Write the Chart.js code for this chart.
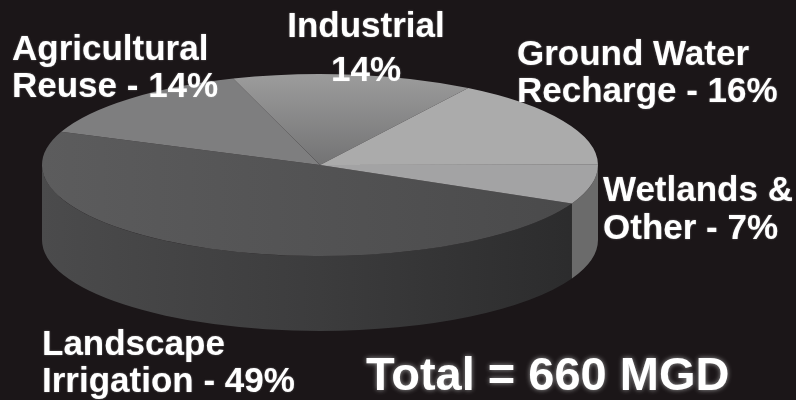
<!DOCTYPE html>
<html>
<head>
<meta charset="utf-8">
<script src="https://cdn.jsdelivr.net/npm/chart.js@4/dist/chart.umd.min.js"></script>
<style>
  html, body { margin: 0; padding: 0; background: #1b1618; }
  #wrap { width: 796px; height: 400px; }
</style>
</head>
<body>
<div id="wrap"><canvas id="pie" width="796" height="400"></canvas></div>
<script>
// slices, clockwise from the front-right edge
const categories = ["Landscape Irrigation", "Agricultural Reuse", "Industrial", "Ground Water Recharge", "Wetlands & Other"];
const shares = [49, 14, 14, 16, 7];
const labelLines = [
  ["Landscape", "Irrigation - 49%"],
  ["Agricultural", "Reuse - 14%"],
  ["Industrial", "14%"],
  ["Ground Water", "Recharge - 16%"],
  ["Wetlands &", "Other - 7%"]
];
const totalText = "Total = 660 MGD";

const topColors = ["#555556", "#7e7e7f", "#888889", "#ababab", "#a3a3a4"];
const sideColors = ["#3c3c3d", "#5a5a5a", "#606060", "#777777", "#6b6b6b"];

// where the labels sit
const labelPos = [
  { x: 42, y: 355, gap: 37, align: "left" },
  { x: 12, y: 60, gap: 37, align: "left" },
  { x: 366, y: 37, gap: 44, align: "center" },
  { x: 517, y: 65, gap: 37, align: "left" },
  { x: 603, y: 201, gap: 38, align: "left" }
];

const RX = 278, RY = 91, DEPTH = 75;

// a bit of shading on the top face, in the pie's own (unsquashed) space
function topFill(c) {
  const i = c.dataIndex;
  const area = c.chart.chartArea;
  if (!area) return topColors[i];
  const ctx = c.chart.ctx;
  const cx = (area.left + area.right) / 2, cy = (area.top + area.bottom) / 2;
  const R = Math.min(area.right - area.left, area.bottom - area.top) / 2;
  if (i === 0) {
    const g = ctx.createLinearGradient(cx - R, 0, cx + R, 0);
    g.addColorStop(0, "#5c5c5d");
    g.addColorStop(1, "#49494a");
    return g;
  }
  if (i === 2) {
    const g = ctx.createLinearGradient(0, cy - R, 0, cy);
    g.addColorStop(0, "#9c9c9c");
    g.addColorStop(1, "#737374");
    return g;
  }
  return topColors[i];
}

// squash the library's pie into a tilted disc and give it a side wall
const tilt = {
  id: "tilt",
  beforeDatasetsDraw(chart) {
    const ctx = chart.ctx;
    const arcs = chart.getDatasetMeta(0).data;
    const cx = arcs[0].x, cy = arcs[0].y, R = arcs[0].outerRadius;

    // side wall: only the front half (0..PI) shows
    arcs.forEach((arc, i) => {
      [0, -2 * Math.PI].forEach(off => {
        const a0 = Math.max(arc.startAngle + off, 0);
        const a1 = Math.min(arc.endAngle + off, Math.PI);
        if (a1 <= a0) return;
        let fill = sideColors[i];
        if (i === 0) {
          const g = ctx.createLinearGradient(cx - RX, 0, cx + RX, 0);
          g.addColorStop(0, "#4b4b4c");
          g.addColorStop(0.5, "#3c3c3d");
          g.addColorStop(1, "#2a2a2b");
          fill = g;
        }
        ctx.save();
        ctx.beginPath();
        ctx.ellipse(cx, cy, RX, RY, 0, a0, a1, false);
        ctx.ellipse(cx, cy + DEPTH, RX, RY, 0, a1, a0, true);
        ctx.closePath();
        ctx.fillStyle = fill;
        ctx.fill();
        ctx.restore();
      });
    });

    ctx.save();
    ctx.translate(cx, cy);
    ctx.scale(RX / R, RY / R);
    ctx.translate(-cx, -cy);
  },
  afterDatasetsDraw(chart) {
    chart.ctx.restore();
  },
  afterDraw(chart) {
    const ctx = chart.ctx;
    ctx.save();
    ctx.fillStyle = "#ffffff";
    ctx.textBaseline = "alphabetic";
    ctx.shadowColor = "rgba(200,200,200,0.5)";
    ctx.shadowBlur = 2;
    ctx.font = 'bold 35px "Liberation Sans", Arial, sans-serif';
    labelLines.forEach((lines, i) => {
      const p = labelPos[i];
      ctx.textAlign = p.align;
      lines.forEach((t, j) => ctx.fillText(t, p.x, p.y + j * p.gap));
    });
    ctx.textAlign = "left";
    ctx.font = 'bold 47px "Liberation Sans", Arial, sans-serif';
    ctx.shadowColor = "rgba(170,170,170,0.9)";
    ctx.shadowBlur = 5;
    ctx.fillText(totalText, 366, 390);
    ctx.restore();
  }
};

new Chart(document.getElementById("pie"), {
  type: "pie",
  data: {
    labels: categories,
    datasets: [{
      data: shares,
      backgroundColor: topFill,
      borderWidth: 0
    }]
  },
  options: {
    responsive: false,
    animation: false,
    events: [],
    rotation: 115,
    layout: { padding: { left: 0, right: 156, top: 0, bottom: 70 } },
    plugins: {
      legend: { display: false },
      tooltip: { enabled: false }
    }
  },
  plugins: [tilt]
});
</script>
</body>
</html>
